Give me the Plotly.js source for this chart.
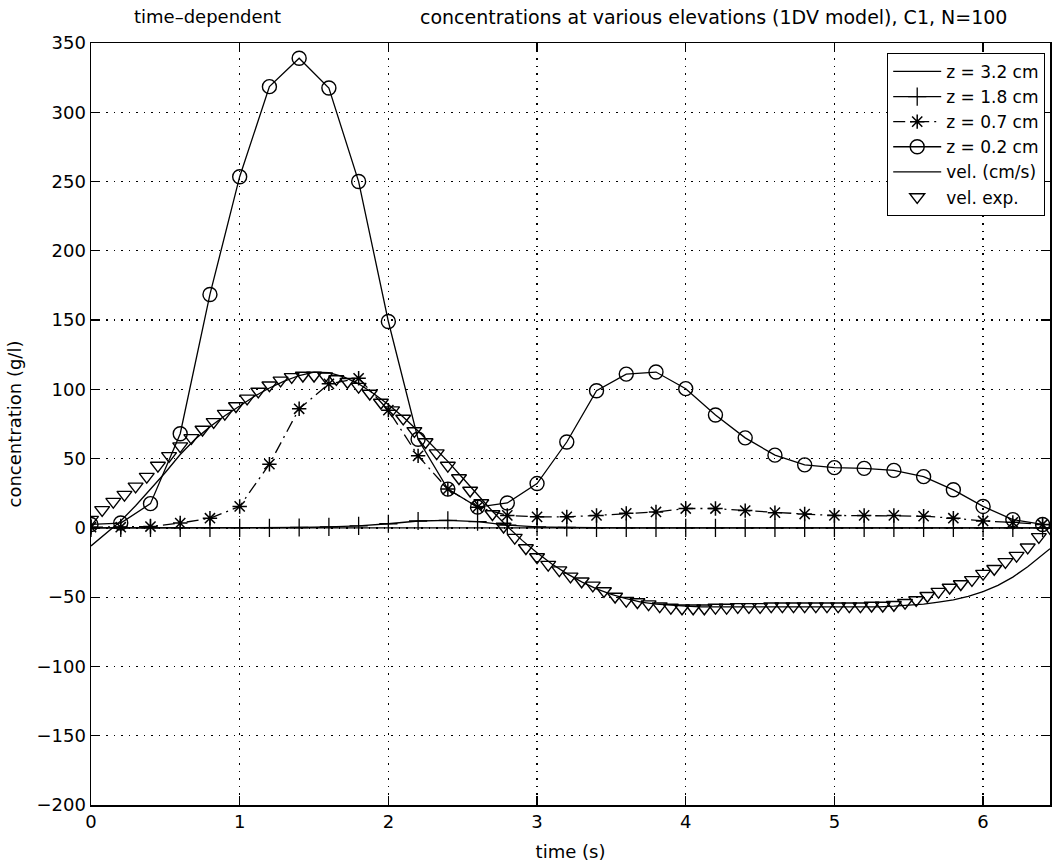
<!DOCTYPE html>
<html>
<head>
<meta charset="utf-8">
<script src="https://cdn.plot.ly/plotly-3.0.1.min.js"></script>
<style>html,body{margin:0;padding:0;background:#fff;}#chart{width:1052px;height:865px;}</style>
</head>
<body>
<div id="chart"></div>
<script>
// sampled at every 0.2 s
const tSample = [0,0.2,0.4,0.6,0.8,1.0,1.2,1.4,1.6,1.8,2.0,2.2,2.4,2.6,2.8,3.0,3.2,3.4,3.6,3.8,4.0,4.2,4.4,4.6,4.8,5.0,5.2,5.4,5.6,5.8,6.0,6.2,6.4];
const cZ32 = [0,0,0,0,0,0,0,0,0,0,0,0.5,0.5,0.5,0.5,0,0,0,0,0,0,0,0,0,0,0,0,0,0,0,0,0,0];
const cZ18 = [0,0,0,0,0,0,0,0.3,0.8,1.5,3,5,5.5,4.5,2,0.8,0.3,0,0,0,0,0,0,0,0,0,0,0,0,0,0,0,0];
const cZ07 = [0.5,0.5,1,3.5,7,15.5,46,86,104,108,85,52,28,15,9,8,8,9,10.5,11.5,14,14,12.5,11,10,9,9,9,8.5,7,5,4,2.5];
const cZ02 = [2.5,3.5,17.5,68,168.5,253.5,318.5,339,317.5,250,149,64,28,15,18,32,62,99,111,112.5,100.5,81.5,65,52.5,45.5,43.5,43,41.5,37,27.5,15.5,6,2.5];

// model velocity
const tVel = [0,0.1,0.2,0.3,0.4,0.5,0.6,0.7,0.8,0.9,1.0,1.1,1.2,1.3,1.4,1.5,1.6,1.7,1.8,1.9,2.0,2.1,2.2,2.3,2.4,2.5,2.6,2.7,2.8,2.9,3.0,3.1,3.2,3.3,3.4,3.5,3.6,3.7,3.8,3.9,4.0,4.1,4.2,4.3,4.4,4.5,4.6,4.7,4.8,4.9,5.0,5.1,5.2,5.3,5.4,5.5,5.6,5.7,5.8,5.9,6.0,6.1,6.2,6.3,6.4,6.45];
const vel = [-13,-4,5,16,28,40,53,64,73,81,88,95,101,106,110,112.5,112,109,104,97,89,80,70,59,48,36,24,12,1,-9,-18,-26,-33,-39,-44,-48,-51,-53.5,-55,-56,-56.5,-57,-57,-57.5,-57.5,-57.5,-57.5,-57.5,-57.5,-57.5,-57.5,-57.5,-57,-57,-56.5,-56,-55,-53.5,-52,-49.5,-46,-41.5,-35.5,-28,-19.5,-15];

// experimental velocity
const tExp = [0,0.075,0.15,0.225,0.3,0.375,0.45,0.525,0.6,0.675,0.75,0.825,0.9,0.975,1.05,1.125,1.2,1.275,1.35,1.425,1.5,1.575,1.65,1.725,1.8,1.875,1.95,2.025,2.1,2.175,2.25,2.325,2.4,2.475,2.55,2.625,2.7,2.775,2.85,2.925,3.0,3.075,3.15,3.225,3.3,3.375,3.45,3.525,3.6,3.675,3.75,3.825,3.9,3.975,4.05,4.125,4.2,4.275,4.35,4.425,4.5,4.575,4.65,4.725,4.8,4.875,4.95,5.025,5.1,5.175,5.25,5.325,5.4,5.475,5.55,5.625,5.7,5.775,5.85,5.925,6.0,6.075,6.15,6.225,6.3,6.375,6.45];
const velExp = [6,13,19,24,30,37,45,52,59,65,71,76.5,82.5,88,93.5,98.5,103,106.5,109,110,110,109.5,107.5,105.5,102,97,90.5,85,79,70,62,54,45,36,27,18,10,1,-7,-14.5,-21,-26.5,-30.5,-35,-38.5,-41.5,-45.5,-49.5,-52.5,-53.5,-55,-56.5,-57.5,-58,-58,-58,-57.5,-57.5,-57,-57,-57,-56.5,-56.5,-56.5,-56.5,-56.5,-56.5,-56.5,-56.5,-56.5,-56,-56,-55.5,-54,-52,-49,-46,-43,-40.5,-37.5,-33,-29.5,-24.5,-20,-14,-6.5,0];

const seriesNames = ['z = 3.2 cm','z = 1.8 cm','z = 0.7 cm','z = 0.2 cm','vel. (cm/s)','vel. exp.'];
const titleLeft = 'time\u2013dependent';
const titleRight = 'concentrations at various elevations (1DV model), C1, N=100';

const FONT = '"DejaVu Sans", Verdana, sans-serif';
const FS = 18;
const LW = 1.3;

const traces = [
  {x:tSample, y:cZ32, name:seriesNames[0], mode:'lines', line:{color:'#000', width:LW}},
  {x:tSample, y:cZ18, name:seriesNames[1], mode:'lines+markers', line:{color:'#000', width:LW},
   marker:{symbol:'cross-thin-open', size:13, color:'#000', line:{width:1.3, color:'#000'}}},
  {x:tSample, y:cZ07, name:seriesNames[2], mode:'lines+markers', line:{color:'#000', width:LW, dash:'12px,5px,2px,5px'},
   marker:{symbol:'asterisk-open', size:12, color:'#000', line:{width:1.5, color:'#000'}}},
  {x:tSample, y:cZ02, name:seriesNames[3], mode:'lines+markers', line:{color:'#000', width:LW},
   marker:{symbol:'circle-open', size:14, color:'#000', line:{width:1.4, color:'#000'}}},
  {x:tVel, y:vel, name:seriesNames[4], mode:'lines', line:{color:'#000', width:LW}},
  {x:tExp, y:velExp, name:seriesNames[5], mode:'markers',
   marker:{symbol:'triangle-down-open', size:13, color:'#000', line:{width:1.4, color:'#000'}}}
];

const axisCommon = {
  showline:true, linecolor:'#000', linewidth:1.5, mirror:'ticks',
  ticks:'inside', ticklen:9, tickwidth:1.2, tickcolor:'#000',
  showgrid:true, gridcolor:'#000', gridwidth:1.2, griddash:'1.5px,6px',
  zeroline:false, tickfont:{family:FONT, size:FS, color:'#000'}
};

const layout = {
  width:1052, height:865,
  margin:{l:91, r:2, t:43, b:60},
  paper_bgcolor:'#fff', plot_bgcolor:'#fff',
  font:{family:FONT, color:'#000', size:FS},
  showlegend:true,
  legend:{x:0.995, xanchor:'right', y:0.987, yanchor:'top', bgcolor:'#fff', bordercolor:'#000', borderwidth:1,
          font:{family:FONT, size:17, color:'#000'}, tracegroupgap:0, itemwidth:48},
  xaxis:Object.assign({}, axisCommon, {range:[0,6.45], tickvals:[0,1,2,3,4,5,6],
          title:{text:'time (s)', font:{family:FONT, size:FS}, standoff:14}}),
  yaxis:Object.assign({}, axisCommon, {range:[-200,350], dtick:50, tick0:0,
          title:{text:'concentration (g/l)', font:{family:FONT, size:FS}, standoff:10}}),
  annotations:[
    {text:titleLeft, xref:'paper', yref:'paper', x:(207-91)/959, y:1+(43-17)/762, xanchor:'center', yanchor:'middle', showarrow:false, font:{family:FONT, size:FS}},
    {text:titleRight, xref:'paper', yref:'paper', x:(418-91)/959, y:1+(43-17)/762, xanchor:'left', yanchor:'middle', showarrow:false, font:{family:FONT, size:19}}
  ]
};

Plotly.newPlot('chart', traces, layout, {displayModeBar:false, staticPlot:true});
</script>
</body>
</html>
